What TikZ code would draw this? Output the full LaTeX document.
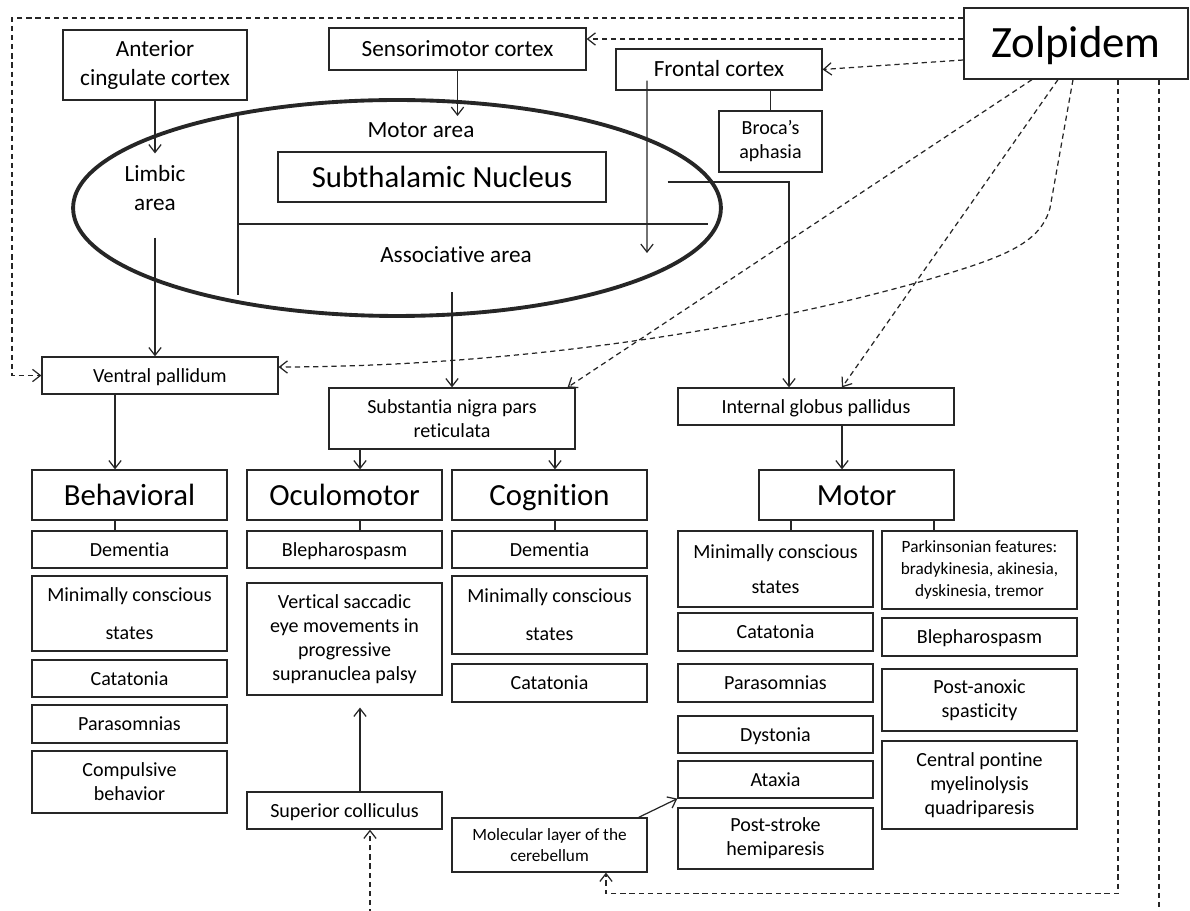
\documentclass[tikz,border=0pt]{standalone}
\usepackage{fontspec}
\setmainfont{Carlito}[Ligatures={TeX,NoCommon}]
\usetikzlibrary{arrows.meta}
\newcommand{\fsbody}{\fontsize{11.4}{13.6}\selectfont}
\newcommand{\fstop}{\fontsize{13.2}{17}\selectfont}
\newcommand{\fscat}{\fontsize{17.5}{20}\selectfont}
\newcommand{\fszol}{\fontsize{25.5}{30}\selectfont}
\newcommand{\fssmall}{\fontsize{9.8}{12.3}\selectfont}
\tikzset{
  box/.style={draw, line width=0.7pt, inner sep=0pt, align=center, font=\fsbody},
  one/.style={text height=9pt, text depth=1.5pt},
  item/.style={box, minimum width=3.9cm},
  cat/.style={box, font=\fscat, minimum width=3.9cm, minimum height=1cm, text height=14pt, text depth=2.2pt},
  zdash/.style={dash pattern=on 3pt off 2.2pt},
}

\begin{document}
\begin{tikzpicture}[x=0.02cm, y=-0.02cm, line width=0.7pt, draw=black!85,
    >={Straight Barb[length=4.5pt,width=7pt]}]
    \useasboundingbox (0,0) rectangle (1190,911);

    % cortex and drug boxes
    \node[box, font=\fstop, minimum width=3.68cm, minimum height=1.4cm] (acc) at (155,65) {Anterior\\cingulate cortex};
    \node[box, font=\fstop, minimum width=5.14cm, minimum height=0.84cm, text height=10pt, text depth=1.5pt] (smc) at (457.5,49) {Sensorimotor cortex};
    \node[box, font=\fstop, minimum width=4.12cm, minimum height=0.82cm, text height=10pt, text depth=1.5pt] (frc) at (719,69.5) {Frontal cortex};
    \node[box, minimum width=2.06cm, minimum height=1.22cm] (broca) at (770.5,141.5) {Broca’s\\aphasia};
    \node[box, font=\fszol, minimum width=4.48cm, minimum height=1.42cm, text height=19pt, text depth=2.6pt] (zol) at (1076,43.5) {Zolpidem};

    % subthalamic nucleus and its areas
    \draw[line width=2.2pt] (397,208) ellipse [x radius=6.48cm, y radius=2.16cm];
    \draw (238,112) -- (238,295);
    \draw (238,224) -- (708,224);
    \node[box, font=\fscat, minimum width=6.56cm, minimum height=1cm, text height=14pt, text depth=2.2pt] (stn) at (442,177) {Subthalamic Nucleus};
    \node[font=\fstop] (motorarea) at (421,130) {Motor area};
    \node[font=\fstop, align=center] (limbic) at (155,188) {Limbic\\area};
    \node[font=\fstop] (assoc) at (456,255) {Associative area};
    \coordinate (frcend) at (647,253);

    % output nuclei
    \node[box, one, minimum width=4.72cm, minimum height=0.74cm] (vp) at (160,375.5) {Ventral pallidum};
    \node[box, minimum width=4.92cm, minimum height=1.22cm] (snr) at (452,418.5) {Substantia nigra pars\\reticulata};
    \node[box, one, minimum width=5.52cm, minimum height=0.74cm] (gpi) at (816,406.5) {Internal globus pallidus};

    % loops
    \node[cat] (beh) at (129.5,495) {Behavioral};
    \node[cat] (ocu) at (344.5,495) {Oculomotor};
    \node[cat] (cog) at (549.5,495) {Cognition};
    \node[cat] (mot) at (856.5,495) {Motor};

    % behavioral
    \node[item, one, minimum height=0.74cm] (b1) at (129.5,549.5) {Dementia};
    \node[item, minimum height=1.5cm] (b2) at (129.5,613.5) {Minimally conscious\\[8pt]states};
    \node[item, one, minimum height=0.74cm] (b3) at (129.5,678.5) {Catatonia};
    \node[item, one, minimum height=0.76cm] (b4) at (129.5,724) {Parasomnias};
    \node[item, minimum height=1.24cm] (b5) at (129.5,782) {Compulsive\\behavior};

    % oculomotor
    \node[item, one, minimum height=0.74cm] (o1) at (344.5,549.5) {Blepharospasm};
    \node[item, minimum height=2.24cm] (o2) at (344.5,639) {Vertical saccadic\\eye movements in\\progressive\\supranuclea palsy};
    \node[item, one, minimum height=0.74cm] (sc) at (344.5,810.5) {Superior colliculus};

    % cognition
    \node[item, one, minimum height=0.74cm] (c1) at (549.5,549.5) {Dementia};
    \node[item, minimum height=1.56cm] (c2) at (549.5,615) {Minimally conscious\\[8pt]states};
    \node[item, one, minimum height=0.76cm] (c3) at (549.5,683) {Catatonia};
    \node[item, font=\fssmall, minimum height=1.08cm] (mol) at (549.5,845) {Molecular layer of the\\cerebellum};

    % motor
    \node[item, minimum height=1.52cm] (m1) at (775.5,569) {Minimally conscious\\[6pt]states};
    \node[item, one, minimum height=0.76cm] (m2) at (775.5,632) {Catatonia};
    \node[item, one, minimum height=0.76cm] (m3) at (775.5,683) {Parasomnias};
    \node[item, one, minimum height=0.74cm] (m4) at (775.5,734.5) {Dystonia};
    \node[item, one, minimum height=0.74cm] (m5) at (775.5,779.5) {Ataxia};
    \node[item, minimum height=1.22cm] (m6) at (775.5,838.5) {Post-stroke\\hemiparesis};
    \node[item, font=\fssmall, minimum height=1.56cm] (p1) at (979.5,570) {Parkinsonian features:\\bradykinesia, akinesia,\\dyskinesia, tremor};
    \node[item, one, minimum height=0.76cm] (p2) at (979.5,637) {Blepharospasm};
    \node[item, minimum height=1.24cm] (p3) at (979.5,700) {Post-anoxic\\spasticity};
    \node[item, minimum height=1.76cm] (p4) at (979.5,785) {Central pontine\\myelinolysis\\quadriparesis};

    % pathways
    \draw[->] (acc.south) -- ([yshift=0.1cm]limbic.north);
    \draw[->] (smc.south) -- (smc.south |- motorarea.north);
    \draw[->] ([xshift=-1.44cm,yshift=0.2cm]frc.south) -- (frcend);
    \draw (broca.north) -- (broca.north |- frc.south);
    \draw[->] ([yshift=-0.4cm]limbic.south) -- (limbic.south |- vp.north);
    \draw[->] ([yshift=1.9cm]snr.north) -- (snr.north);
    \draw[->] ([xshift=1.22cm,yshift=-0.1cm]stn.east) -| ([xshift=-0.54cm]gpi.north);
    \draw[->] ([xshift=-0.9cm]vp.south) -- ([xshift=-0.9cm]vp.south |- beh.north);
    \draw[->] ([xshift=-1.84cm]snr.south) -- ([xshift=-1.84cm]snr.south |- ocu.north);
    \draw[->] ([xshift=2.06cm]snr.south) -- ([xshift=2.06cm]snr.south |- cog.north);
    \draw[->] ([xshift=0.52cm]gpi.south) -- ([xshift=0.52cm]gpi.south |- mot.north);
    \draw ([xshift=-0.29cm]beh.south) -- ([xshift=-0.29cm]beh.south |- b1.north);
    \draw ([xshift=0.31cm]ocu.south) -- ([xshift=0.31cm]ocu.south |- o1.north);
    \draw ([xshift=0.11cm]cog.south) -- ([xshift=0.11cm]cog.south |- c1.north);
    \draw ([xshift=-1.31cm]mot.south) -- ([xshift=-1.31cm]mot.south |- m1.north);
    \draw ([xshift=1.55cm]mot.south) -- ([xshift=1.55cm]mot.south |- p1.north);
    \draw[->] ([xshift=0.31cm]sc.north) -- ([xshift=0.31cm,yshift=-0.24cm]o2.south);
    \draw[->] ([xshift=-0.18cm]mol.north east) -- (m5.south west);

    % zolpidem targets
    \coordinate (lft) at (12,0);
    \draw[zdash,->] ([yshift=0.51cm]zol.west) -| (lft |- vp.west) -- (vp.west);
    \draw[zdash,->] ([yshift=0.09cm]zol.west) -- ([yshift=0.09cm]zol.west -| smc.east);
    \draw[zdash,->] ([yshift=-0.33cm]zol.west) -- (frc.east);
    \draw[zdash,->] ([xshift=-0.88cm]zol.south) -- ([xshift=-0.16cm]snr.north east);
    \draw[zdash,->] ([xshift=-0.36cm]zol.south) -- ([xshift=0.52cm]gpi.north);
    \draw[zdash,->] ([xshift=-0.06cm]zol.south) -- (1050,208)
        .. controls (1040,245) and (1000,258) .. (930,279)
        .. controls (700,345) and (450,367) .. ([yshift=0.17cm]vp.east);
    \draw[zdash,->] ([xshift=0.84cm]zol.south) |- ([xshift=1.13cm,yshift=-0.42cm]mol.south) -- ([xshift=1.13cm]mol.south);
    \draw[zdash,->] ([xshift=1.66cm]zol.south) |- ([xshift=0.51cm,yshift=-1.72cm]sc.south) -- ([xshift=0.51cm]sc.south);
\end{tikzpicture}
\end{document}
